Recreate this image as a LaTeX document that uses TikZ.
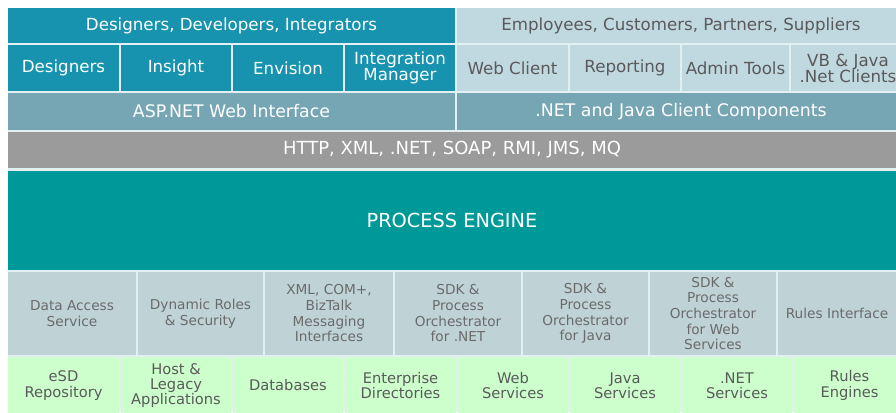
\documentclass[tikz,border=0pt]{standalone}
\usepackage{fontspec}
\setmainfont{DejaVu Sans}
\usepackage{tikz}
\definecolor{userblue}{HTML}{1793B0}
\definecolor{userlight}{HTML}{C0D8E0}
\definecolor{webif}{HTML}{76A6B4}
\definecolor{protocol}{HTML}{9B9B9B}
\definecolor{engine}{HTML}{009999}
\definecolor{service}{HTML}{BFD2D5}
\definecolor{backend}{HTML}{CCFFCC}
\definecolor{sepline}{HTML}{E2F0F2}
\definecolor{darktext}{HTML}{5A5A5A}
\tikzset{cell/.style={inner sep=0pt,outer sep=0pt,align=center}}
\tikzset{dims/.style 2 args={minimum width={(#1)*0.75pt},minimum height={(#2)*0.75pt}}}
\tikzset{Dev/.style={cell,fill=userblue,text=white,font=\fontsize{12.5}{12}\selectfont}}
\tikzset{Emp/.style={cell,fill=userlight,text=darktext,font=\fontsize{12.5}{12}\selectfont}}
\tikzset{Web/.style={cell,fill=webif,text=white,font=\fontsize{13}{13}\selectfont}}
\tikzset{Proto/.style={cell,fill=protocol,text=white,font=\fontsize{13.5}{13.5}\selectfont}}
\tikzset{Engine/.style={cell,fill=engine,text=white,font=\fontsize{14.5}{14.5}\selectfont}}
\tikzset{Svc/.style={cell,fill=service,text=darktext!90,font=\fontsize{10.25}{11.75}\selectfont}}
\tikzset{Back/.style={cell,fill=backend,text=darktext,font=\fontsize{11}{11.5}\selectfont}}

\begin{document}
\begin{tikzpicture}[x=0.75pt,y=-0.75pt]

\clip (0,0) rectangle (896,412);
\fill[white] (0,0) rectangle (896,412);
\fill[sepline] (8,8) rectangle (896,412);

% users
\node[Dev,dims={447}{35}] (devs) at (231.5,25.5) {Designers, Developers, Integrators};
\node[Emp,dims={448}{35}] (users) at (681,25.5) {Employees, Customers, Partners, Suppliers};

\foreach \a/\b/\n/\t in {8/119/designers/Designers, 121/231/insight/Insight, 233/343/envision/Envision, 345/455/intmgr/{Integration\\Manager}}
  {
  \node[Dev,dims={\b-\a}{46}] (\n) at ({(\a+\b)/2},68) {\t};
  }
\foreach \a/\b/\n/\t in {457/568/webclient/Web Client, 570/680/reporting/Reporting, 682/789/admin/Admin Tools, 791/905/vbjava/{VB \& Java\\.Net Clients}}
  {
  \node[Emp,dims={\b-\a}{46}] (\n) at ({(\a+\b)/2},68) {\t};
  }

% interfaces
\node[Web,dims={447}{37}] (asp) at (231.5,111.5) {ASP.NET Web Interface};
\node[Web,dims={448}{37}] (clientcomp) at (681,111.5) {.NET and Java Client Components};

\node[Proto,dims={888}{36}] (protocols) at (452,150) {HTTP, XML, .NET, SOAP, RMI, JMS, MQ};
\node[Engine,dims={888}{99}] (engine) at (452,220.5) {PROCESS ENGINE};

% services
\foreach \a/\b/\n/\t in {8/136/dataacc/{Data Access\\Service}, 138/263/roles/{Dynamic Roles\\\& Security}, 265/393/msg/{XML, COM+,\\BizTalk\\Messaging\\Interfaces}, 395/521/sdknet/{SDK \&\\Process\\Orchestrator\\for .NET}, 523/648/sdkjava/{SDK \&\\Process\\Orchestrator\\for Java}, 650/776/sdkweb/{SDK \&\\Process\\Orchestrator\\for Web\\Services}, 778/896/rulesif/Rules Interface}
  {
  \node[Svc,dims={\b-\a}{83}] (\n) at ({(\a+\b)/2},313.5) {\t};
  }

% back ends
\foreach \a/\b/\n/\t in {8/119/esd/{eSD\\Repository}, 121/231/legacy/{Host \&\\Legacy\\Applications}, 233/343/db/Databases, 345/456/dirs/{Enterprise\\Directories}, 458/568/websvc/{Web\\Services}, 570/680/javasvc/{Java\\Services}, 682/792/netsvc/{.NET\\Services}, 794/905/rulesen/{Rules\\Engines}}
  {
  \node[Back,dims={\b-\a}{57}] (\n) at ({(\a+\b)/2},385.5) {\t};
  }

\end{tikzpicture}
\end{document}
